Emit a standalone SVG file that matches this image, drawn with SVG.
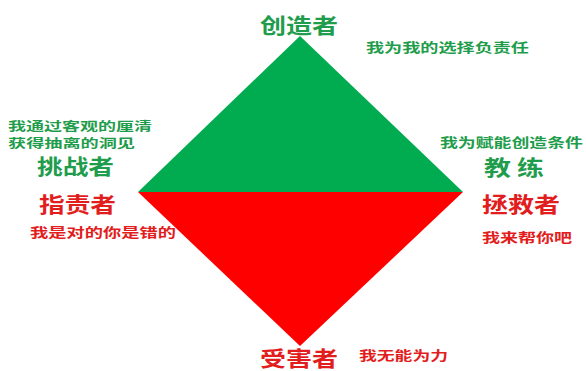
<svg xmlns="http://www.w3.org/2000/svg" width="586" height="371" viewBox="0 0 586 371">
<style>
text{font-family:"Noto Sans CJK SC","Liberation Sans",sans-serif;font-weight:bold}
.g{fill:#1f9d4c}
.r{fill:#e21d1d}
.h{font-size:21px}
.s{font-size:13px}
.t{font-size:12px}
</style>
<rect width="586" height="371" fill="#ffffff"/>
<g id="diamond">
<polygon points="300,36 138,192 463,192" fill="#00ac4f"/>
<polygon points="138,192 463,192 300,346" fill="#ff0000"/>
</g>
<g id="creator"><text class="g h" x="260" y="33" textLength="78" lengthAdjust="spacingAndGlyphs">创造者</text>
<text class="g s" x="366" y="52" textLength="163" lengthAdjust="spacingAndGlyphs">我为我的选择负责任</text></g>
<g id="challenger"><text class="g t" x="8" y="131" textLength="144" lengthAdjust="spacingAndGlyphs">我通过客观的厘清</text>
<text class="g t" x="8" y="148" textLength="127" lengthAdjust="spacingAndGlyphs">获得抽离的洞见</text>
<text class="g h" x="37" y="174" textLength="77" lengthAdjust="spacingAndGlyphs">挑战者</text></g>
<g id="coach"><text class="g s" x="440" y="147" textLength="143" lengthAdjust="spacingAndGlyphs">我为赋能创造条件</text>
<text class="g h" x="484" y="175" textLength="60" lengthAdjust="spacingAndGlyphs">教 练</text></g>
<g id="blamer"><text class="r h" x="39" y="212" textLength="77" lengthAdjust="spacingAndGlyphs">指责者</text>
<text class="r s" x="30" y="237" textLength="146" lengthAdjust="spacingAndGlyphs">我是对的你是错的</text></g>
<g id="rescuer"><text class="r h" x="482" y="212" textLength="78" lengthAdjust="spacingAndGlyphs">拯救者</text>
<text class="r s" x="482" y="242" textLength="90" lengthAdjust="spacingAndGlyphs">我来帮你吧</text></g>
<g id="victim"><text class="r h" x="260" y="366" textLength="78" lengthAdjust="spacingAndGlyphs">受害者</text>
<text class="r s" x="359" y="360" textLength="89" lengthAdjust="spacingAndGlyphs">我无能为力</text></g>
<g id="connectors"></g>
</svg>
